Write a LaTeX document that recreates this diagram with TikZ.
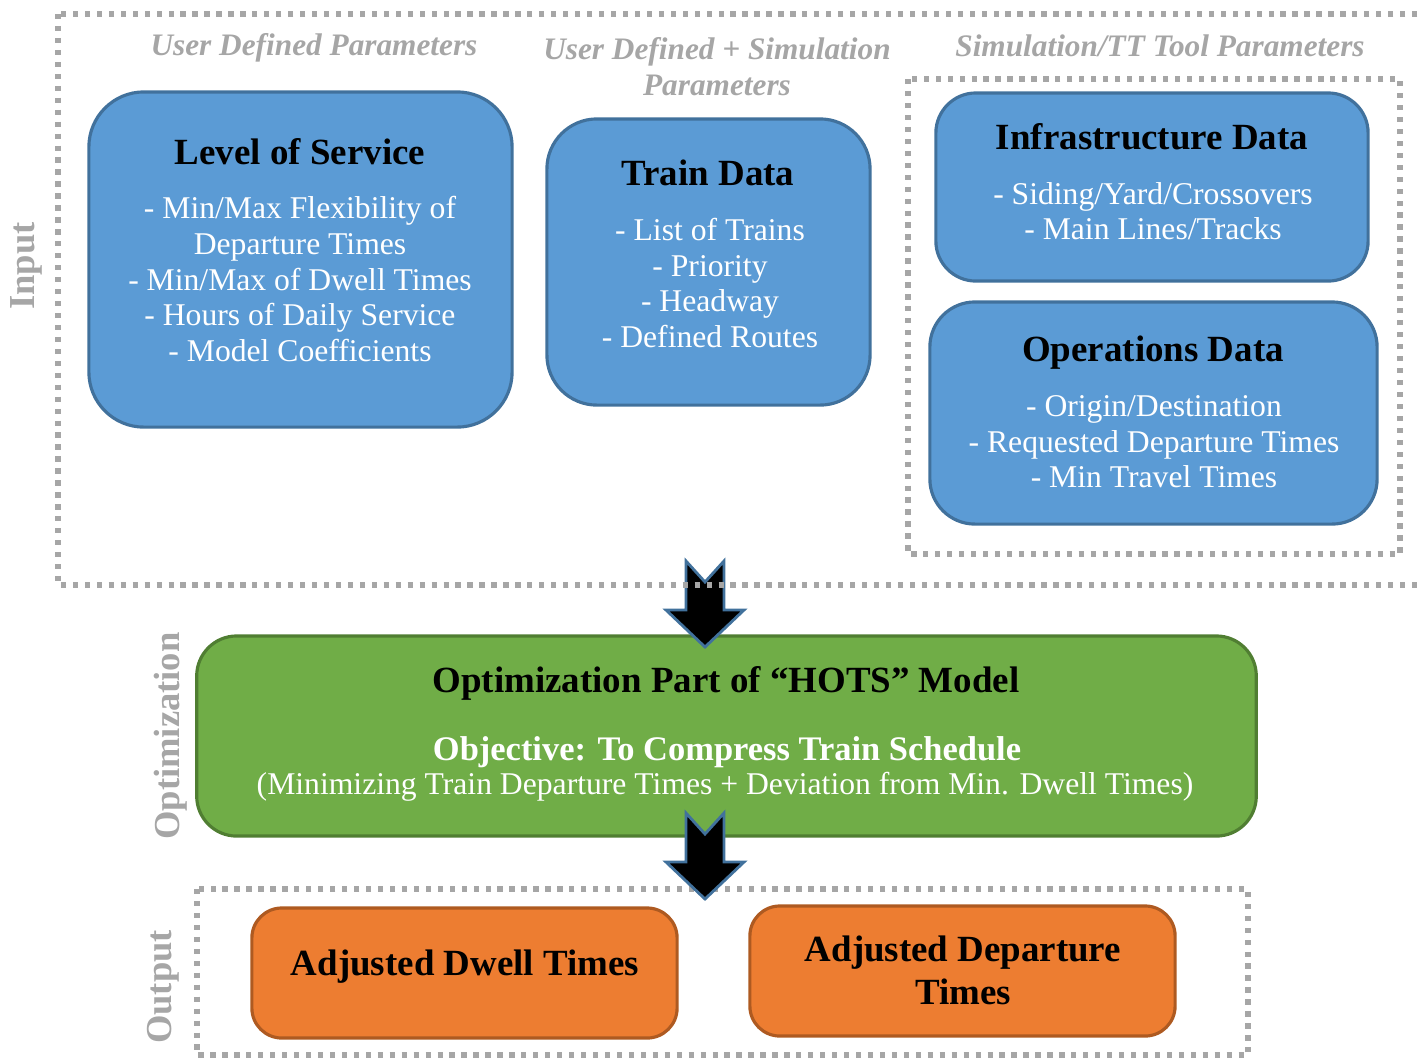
\documentclass[tikz,border=0pt]{standalone}
\usepackage{fontspec}
\setmainfont{Liberation Serif}
\usetikzlibrary{positioning}

\definecolor{boxblue}{HTML}{5B9BD5}
\definecolor{lineblue}{HTML}{41719C}
\definecolor{boxgreen}{HTML}{70AD47}
\definecolor{linegreen}{HTML}{507E32}
\definecolor{boxorange}{HTML}{ED7D31}
\definecolor{lineorange}{HTML}{AE5A21}
\definecolor{labelgray}{HTML}{A6A6A6}

\tikzset{
  panel/.style={draw=labelgray, line width=1.5pt, dash pattern=on 1.5pt off 1.9pt},
  block/.style={draw=#1, line width=0.9pt, inner sep=0pt},
  bluebox/.style={block=lineblue, fill=boxblue},
  greenbox/.style={block=linegreen, fill=boxgreen},
  orangebox/.style={block=lineorange, fill=boxorange},
  boxtitle/.style={font=\fontsize{10.5}{12.6}\selectfont\bfseries, inner sep=0pt},
  boxbody/.style={font=\fontsize{9}{10.1}\selectfont, text=white, align=center, inner sep=0pt},
  header/.style={font=\fontsize{8.9}{10.2}\selectfont\bfseries\itshape, text=labelgray, align=center, inner sep=0pt},
  sidelabel/.style={font=\fontsize{10.4}{12}\selectfont\bfseries, text=labelgray, rotate=90, inner sep=0pt},
  downarrow/.pic={
    \draw[fill=black, draw=lineblue, line width=0.8pt]
      (-19,-49) -- (0,-28) -- (19,-49) -- (19,0) -- (39,0) -- (0,37)
      -- (-39,0) -- (-19,0) -- cycle;
  }
}

\begin{document}
\begin{tikzpicture}[x=0.01cm, y=-0.01cm]
  \useasboundingbox (0,0) rectangle (1420,1059);

  % input boxes
  \node[bluebox, rounded corners=0.55cm, minimum width=4.23cm, minimum height=3.35cm] (los) at (300.5,259.5) {};
  \node[bluebox, rounded corners=0.5cm, minimum width=3.23cm, minimum height=2.86cm] (train) at (708.5,262) {};
  \node[bluebox, rounded corners=0.4cm, minimum width=4.32cm, minimum height=1.88cm] (infra) at (1152,187) {};
  \node[bluebox, rounded corners=0.45cm, minimum width=4.47cm, minimum height=2.22cm] (ops) at (1153.5,413) {};

  \node[boxtitle] (los title) at (300,152) {Level of Service};
  \node[boxbody] (los body) at (300,279) {- Min/Max Flexibility of\\Departure Times\\- Min/Max of Dwell Times\\- Hours of Daily Service\\- Model Coefficients};
  \node[boxtitle] (train title) at (708,173) {Train Data};
  \node[boxbody] (train body) at (710,283) {- List of Trains\\- Priority\\- Headway\\- Defined Routes};
  \node[boxtitle] (infra title) at (1152,137) {Infrastructure Data};
  \node[boxbody] (infra body) at (1153,211) {- Siding/Yard/Crossovers\\- Main Lines/Tracks};
  \node[boxtitle] (ops title) at (1153,353) {Operations Data};
  \node[boxbody] (ops body) at (1154,442) {- Origin/Destination\\- Requested Departure Times\\- Min Travel Times};

  \node[header] (user hdr) at (314,48) {User Defined Parameters};
  \node[header] (mixed hdr) at (717,67) {User Defined + Simulation\\Parameters};
  \node[header] (sim hdr) at (1160,46) {Simulation/TT Tool Parameters};

  % optimization step
  \node[greenbox, rounded corners=0.4cm, minimum width=10.59cm, minimum height=2cm] (opt) at (726.5,736) {};
  \node[boxtitle] (opt title) at (726,683) {Optimization Part of “HOTS” Model};
  \node[boxtitle, text=white, font=\fontsize{9.8}{12}\selectfont\bfseries] (opt goal) at (727,752) {Objective: To Compress Train Schedule};
  \node[boxbody] (opt note) at (725,787) {(Minimizing Train Departure Times + Deviation from Min. Dwell Times)};

  \pic at (705,610) {downarrow};
  \draw[panel] (908,79) rectangle (1400,554);
  \draw[panel] (58,14) rectangle (1440,585);

  % output boxes
  \draw[panel] (197,889) rectangle (1248,1055);
  \pic at (705,862) {downarrow};
  \node[orangebox, rounded corners=0.3cm, minimum width=4.25cm, minimum height=1.3cm] (dwell) at (464.5,973) {};
  \node[orangebox, rounded corners=0.3cm, minimum width=4.25cm, minimum height=1.3cm] (dep) at (962.5,971) {};
  \node[boxtitle] (dwell text) at (465,967) {Adjusted Dwell Times};
  \node[boxtitle, align=center, font=\fontsize{10.5}{12.2}\selectfont\bfseries] (dep text) at (963,970) {Adjusted Departure\\Times};

  \node[sidelabel] (input lbl) at (26,266) {Input};
  \node[sidelabel] (opt lbl) at (171,736) {Optimization};
  \node[sidelabel] (output lbl) at (163,987) {Output};
\end{tikzpicture}
\end{document}
